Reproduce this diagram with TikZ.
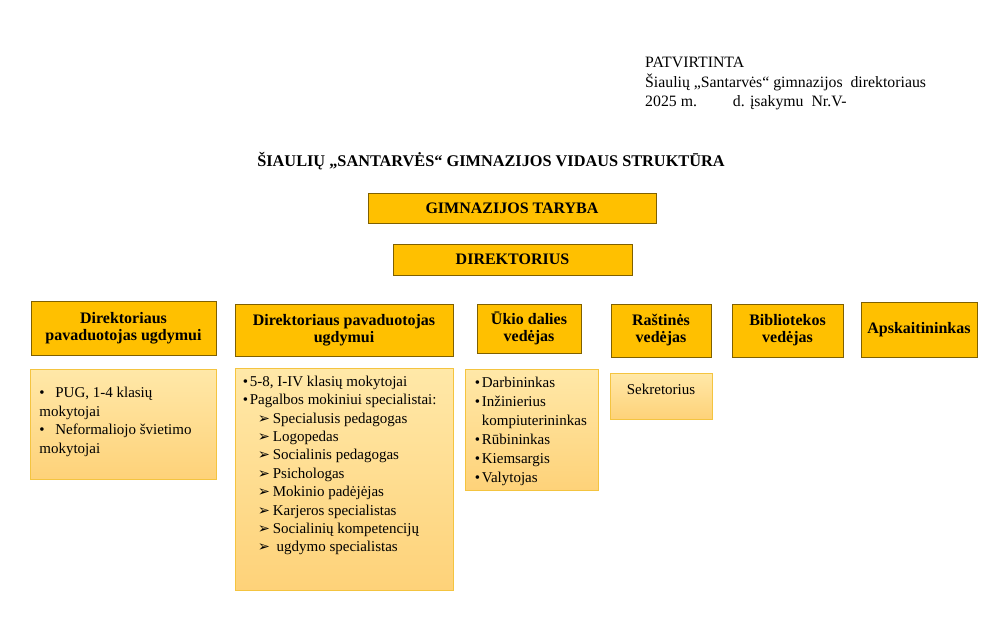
\documentclass[tikz,border=0pt]{standalone}
\usepackage{fontspec}
\setmainfont{Liberation Serif}
\newfontfamily\symfont{DejaVu Sans}
\usetikzlibrary{positioning}
\definecolor{gold}{HTML}{FFC000}
\definecolor{goldline}{HTML}{7F6000}
\definecolor{paletop}{HTML}{FFE8A8}
\definecolor{palebot}{HTML}{FED279}
\definecolor{paleline}{HTML}{F4C440}
\tikzset{
  head/.style  = {draw=goldline, fill=gold, line width=0.9pt, align=center,
                  inner sep=0pt, font=\bfseries\fontsize{16}{17}\selectfont},
  pale/.style  = {draw=paleline, top color=paletop, bottom color=palebot,
                  line width=0.7pt, inner sep=0pt},
  items/.style = {anchor=north west, align=left, inner sep=0pt,
                  font=\fontsize{15}{18.4}\selectfont},
  note/.style  = {anchor=base west, inner sep=0pt, font=\fontsize{15.8}{18}\selectfont},
}
\newcommand{\blt}[1]{\makebox[#1][l]{•}}
\newcommand{\arrmark}{\makebox[15pt][l]{{\symfont\fontsize{14.5}{12}\selectfont ➢}}}

\begin{document}
\begin{tikzpicture}[x=1pt, y=-1pt]
  \useasboundingbox (0,0) rectangle (1007,616);
  % approval note
  \node[note] (appr1) at (645,67) {PATVIRTINTA};
  \node[note] (appr2) at (645,87) {Šiaulių „Santarvės“ gimnazijos\ \ direktoriaus};
  \node[note] (appr3) at (645,106) {2025 m.\hspace{36pt}d. įsakymu\ \ Nr.V-};
  \node[font=\bfseries\fontsize{16.3}{17}\selectfont, inner sep=0pt] (title) at (491,161)
    {ŠIAULIŲ „SANTARVĖS“ GIMNAZIJOS VIDAUS STRUKTŪRA};
  % top levels
  \node[head, minimum width=288pt, minimum height=30pt] (council) at (512,208) {GIMNAZIJOS TARYBA};
  \node[head, minimum width=239pt, minimum height=31pt] (director) at (512.5,259.5) {DIREKTORIUS};
  % departments
  \node[head, minimum width=185pt, minimum height=54pt] (depA) at (123.5,328) {Direktoriaus\\pavaduotojas ugdymui};
  \node[head, minimum width=218pt, minimum height=52pt] (depB) at (344,330) {Direktoriaus pavaduotojas\\ugdymui};
  \node[head, minimum width=104pt, minimum height=49pt] (econ) at (529,328.5) {Ūkio dalies\\vedėjas};
  \node[head, minimum width=100pt, minimum height=53pt] (office) at (661,330.5) {Raštinės\\vedėjas};
  \node[head, minimum width=111pt, minimum height=53pt] (library) at (787.5,330.5) {Bibliotekos\\vedėjas};
  \node[head, minimum width=116pt, minimum height=55pt] (account) at (919,330) {Apskaitininkas};
  % staff boxes
  \node[pale, minimum width=186pt, minimum height=110pt] (staffA) at (123.5,424.5) {};
  \node[pale, minimum width=218pt, minimum height=222pt] (staffB) at (344,479) {};
  \node[pale, minimum width=133pt, minimum height=121pt] (staffC) at (531.5,429.5) {};
  \node[pale, minimum width=102pt, minimum height=46pt] (staffD) at (661,396) {};
  \node[items, font=\fontsize{15}{18.6}\selectfont] (listA) at ([shift={(9,18)}]staffA.north west)
    {\blt{16pt}PUG, 1-4 klasių\\mokytojai\\\blt{16pt}Neformaliojo švietimo\\mokytojai};
  \node[items] (listB) at ([shift={(8,8)}]staffB.north west)
    {\blt{7pt}5-8, I-IV klasių mokytojai\\\blt{7pt}Pagalbos mokiniui specialistai:\\
     \hspace{15pt}\arrmark Specialusis pedagogas\\
     \hspace{15pt}\arrmark Logopedas\\
     \hspace{15pt}\arrmark Socialinis pedagogas\\
     \hspace{15pt}\arrmark Psichologas\\
     \hspace{15pt}\arrmark Mokinio padėjėjas\\
     \hspace{15pt}\arrmark Karjeros specialistas\\
     \hspace{15pt}\arrmark Socialinių kompetencijų\\
     \hspace{15pt}\arrmark\ ugdymo specialistas};
  \node[items, font=\fontsize{15}{19}\selectfont] (listC) at ([shift={(10,8)}]staffC.north west)
    {\blt{7pt}Darbininkas\\\blt{7pt}Inžinierius\\\hspace{7pt}kompiuterininkas\\
     \blt{7pt}Rūbininkas\\\blt{7pt}Kiemsargis\\\blt{7pt}Valytojas};
  \node[items, anchor=north] (listD) at ([yshift=-11pt]staffD.north) {Sekretorius};
\end{tikzpicture}
\end{document}
